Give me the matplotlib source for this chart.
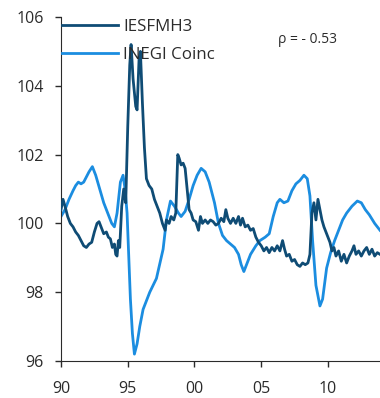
import matplotlib.pyplot as plt

# IESFMH3 (dark line)
iesf_x = [1990.0, 1990.15, 1990.3, 1990.5, 1990.7, 1990.9, 1991.1, 1991.3, 1991.5, 1991.7,
          1991.9, 1992.1, 1992.3, 1992.5, 1992.7, 1992.85, 1993.0, 1993.2, 1993.4, 1993.55,
          1993.7, 1993.85, 1994.0, 1994.1, 1994.2, 1994.3, 1994.4, 1994.55, 1994.7, 1994.85,
          1995.0, 1995.15, 1995.25, 1995.4, 1995.6, 1995.7, 1995.85, 1995.95, 1996.1, 1996.25,
          1996.4, 1996.6, 1996.8, 1997.0, 1997.2, 1997.4, 1997.6, 1997.8, 1997.9, 1998.1,
          1998.25, 1998.45, 1998.6, 1998.75, 1998.85, 1999.0, 1999.15, 1999.3, 1999.45, 1999.6,
          1999.75, 1999.9, 2000.1, 2000.3, 2000.45, 2000.6, 2000.8, 2001.0, 2001.2, 2001.4,
          2001.6, 2001.8, 2002.0, 2002.2, 2002.35, 2002.5, 2002.7, 2002.9, 2003.1, 2003.3,
          2003.45, 2003.6, 2003.8, 2004.0, 2004.2, 2004.4, 2004.6, 2004.8, 2005.0, 2005.2,
          2005.4, 2005.6, 2005.8, 2006.0, 2006.2, 2006.4, 2006.6, 2006.75, 2006.9, 2007.1,
          2007.3, 2007.5, 2007.7, 2007.9, 2008.1, 2008.3, 2008.5, 2008.65, 2008.8, 2008.95,
          2009.1, 2009.25, 2009.4, 2009.55, 2009.7, 2009.85, 2010.0, 2010.15, 2010.3, 2010.45,
          2010.6, 2010.8, 2011.0, 2011.2, 2011.4, 2011.6, 2011.8, 2011.95, 2012.1, 2012.3,
          2012.5, 2012.7, 2012.9, 2013.1, 2013.3, 2013.5, 2013.7, 2013.9]
iesf_y = [100.4, 100.7, 100.5, 100.2, 100.0, 99.9, 99.75, 99.65, 99.5, 99.35,
          99.3, 99.4, 99.45, 99.75, 100.0, 100.05, 99.9, 99.7, 99.75, 99.6,
          99.55, 99.3, 99.4, 99.1, 99.05, 99.5, 99.3, 100.5, 101.0, 100.6,
          102.8, 104.6, 105.2, 104.2, 103.4, 103.3, 104.8, 105.0, 103.5, 102.2,
          101.3, 101.1, 101.0, 100.7, 100.5, 100.3, 100.0, 99.8, 100.1, 100.0,
          100.2, 100.1, 100.3, 102.0, 101.9, 101.7, 101.75, 101.6, 101.0, 100.4,
          100.3, 100.1, 100.05, 99.8, 100.2, 100.0, 100.1, 100.0, 100.1, 100.05,
          99.95, 100.0, 100.15, 100.05, 100.4, 100.15, 100.0, 100.15, 100.0, 100.2,
          99.95, 100.15, 99.9, 99.95, 99.8, 99.85, 99.6, 99.45, 99.35, 99.2,
          99.3, 99.15, 99.3, 99.2, 99.35, 99.2, 99.5, 99.25, 99.05, 99.1,
          98.9, 98.95, 98.8, 98.75, 98.85, 98.8, 98.85, 99.1, 100.3, 100.6,
          100.1, 100.7, 100.4, 100.1, 99.9, 99.75, 99.6, 99.45, 99.2, 99.3,
          99.05, 99.2, 98.9, 99.1, 98.85, 99.05, 99.2, 99.35, 99.1, 99.2,
          99.05, 99.2, 99.3, 99.1, 99.25, 99.05, 99.15, 99.1]

# INEGI Coinc (light line)
inegi_x = [1990.0, 1990.3, 1990.6, 1990.9, 1991.1, 1991.3, 1991.5, 1991.7, 1991.9, 1992.1,
           1992.35, 1992.6, 1992.9, 1993.2, 1993.5, 1993.8, 1994.0, 1994.2, 1994.45, 1994.65,
           1994.8, 1994.95, 1995.2, 1995.35, 1995.5, 1995.7, 1995.9, 1996.15, 1996.65, 1997.15,
           1997.65, 1997.9, 1998.2, 1998.5, 1998.8, 1999.0, 1999.3, 1999.6, 1999.9, 2000.2,
           2000.5, 2000.8, 2001.1, 2001.5, 2001.8, 2002.1, 2002.4, 2002.7, 2003.0, 2003.3,
           2003.5, 2003.7, 2003.9, 2004.2, 2004.6, 2004.9, 2005.3, 2005.6, 2005.9, 2006.2,
           2006.4, 2006.7, 2007.0, 2007.3, 2007.6, 2007.9, 2008.2, 2008.45, 2008.65, 2008.85,
           2009.1, 2009.4, 2009.6, 2009.9, 2010.2, 2010.5, 2010.8, 2011.1, 2011.4, 2011.8,
           2012.2, 2012.5, 2012.8, 2013.1, 2013.5, 2013.9]
inegi_y = [100.2, 100.4, 100.7, 100.95, 101.1, 101.2, 101.15, 101.2, 101.35, 101.5,
           101.65, 101.4, 101.0, 100.6, 100.3, 100.0, 99.9, 100.3, 101.2, 101.4,
           101.0, 100.3, 97.8, 96.8, 96.2, 96.5, 97.0, 97.5, 98.0, 98.4,
           99.25, 100.1, 100.65, 100.5, 100.3, 100.2, 100.35, 100.7, 101.1, 101.4,
           101.6, 101.5, 101.2, 100.6, 100.0, 99.65, 99.5, 99.4, 99.3, 99.1,
           98.8, 98.6, 98.8, 99.1, 99.35, 99.5, 99.6, 99.7, 100.2, 100.6,
           100.7, 100.6, 100.65, 100.95, 101.15, 101.25, 101.4, 101.3, 100.8, 99.5,
           98.2, 97.6, 97.8, 98.7, 99.15, 99.5, 99.8, 100.1, 100.3, 100.5,
           100.65, 100.6, 100.4, 100.25, 100.0, 99.8]

year_ticks = [1990, 1995, 2000, 2005, 2010]
year_labels = ['90', '95', '00', '05', '10']
val_ticks = [96, 98, 100, 102, 104, 106]

dark = '#0f4c75'
light = '#1b8de0'
txt = '#2b2b2b'

plt.rcParams['font.family'] = ['Open Sans', 'DejaVu Sans']

fig = plt.figure(figsize=(3.8, 3.98), dpi=100)
ax = fig.add_axes([61 / 380, 37 / 398, 319 / 380, 344 / 398])

ax.plot(iesf_x, iesf_y, color=dark, lw=2.0, label='IESFMH3', zorder=3)
ax.plot(inegi_x, inegi_y, color=light, lw=2.0, label='INEGI Coinc', zorder=2)

ax.set_xlim(1990, 2013.9)
ax.set_ylim(96, 106)
ax.set_xticks(year_ticks)
ax.set_xticklabels(year_labels)
ax.set_yticks(val_ticks)
ax.tick_params(labelsize=11.5, colors=txt, length=4.5, width=1, direction='out')
ax.tick_params(axis='x', pad=10)
ax.tick_params(axis='y', pad=8)
ax.spines['top'].set_visible(False)
ax.spines['right'].set_visible(False)
for s in ['left', 'bottom']:
    ax.spines[s].set_color(txt)

leg = ax.legend(loc='upper left', bbox_to_anchor=(0.003, 0.995), frameon=False,
                fontsize=12.2, handlelength=3.3, handletextpad=0.3, labelspacing=0.7,
                borderaxespad=0, borderpad=0)
for t in leg.get_texts():
    t.set_color(txt)

ax.text(0.68, 0.924, 'ρ = - 0.53', transform=ax.transAxes, fontsize=10, color=txt,
        va='baseline')

fig.savefig('out.png', dpi=100)
